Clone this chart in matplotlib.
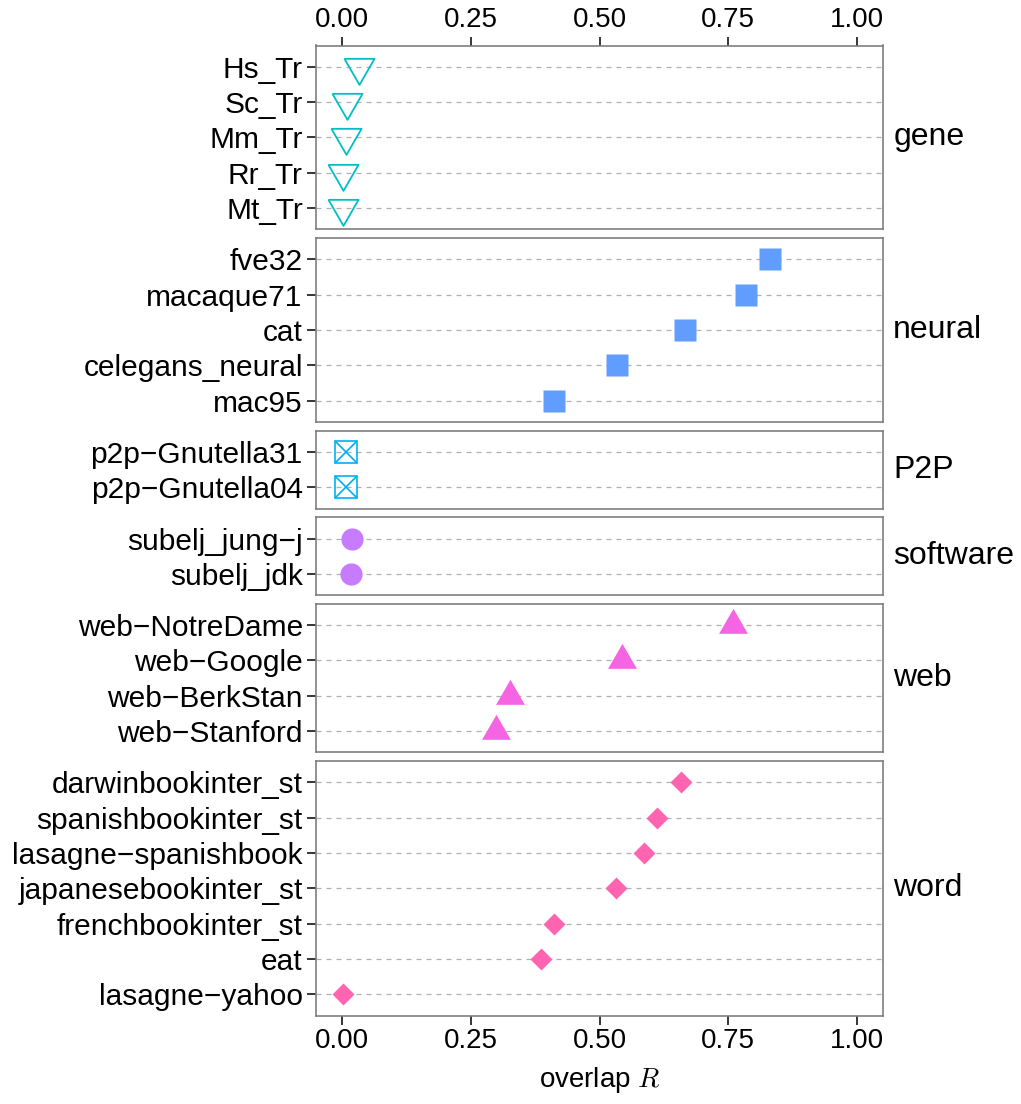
import numpy as np
import matplotlib
matplotlib.use('Agg')
from matplotlib import pyplot as plt

plt.rcParams['font.family'] = ['Liberation Sans', 'DejaVu Sans']
plt.rcParams['mathtext.fontset'] = 'cm'

# data, one list per panel (top row first)
groups = ['gene', 'neural', 'P2P', 'software', 'web', 'word']

gene_names = ['Hs_Tr', 'Sc_Tr', 'Mm_Tr', 'Rr_Tr', 'Mt_Tr']
gene_vals = [0.033, 0.010, 0.008, 0.003, 0.003]

neural_names = ['fve32', 'macaque71', 'cat', 'celegans_neural', 'mac95']
neural_vals = [0.830, 0.784, 0.666, 0.534, 0.412]

p2p_names = ['p2p\u2212Gnutella31', 'p2p\u2212Gnutella04']
p2p_vals = [0.009, 0.009]

software_names = ['subelj_jung\u2212j', 'subelj_jdk']
software_vals = [0.020, 0.018]

web_names = ['web\u2212NotreDame', 'web\u2212Google', 'web\u2212BerkStan', 'web\u2212Stanford']
web_vals = [0.759, 0.543, 0.327, 0.299]

word_names = ['darwinbookinter_st', 'spanishbookinter_st', 'lasagne\u2212spanishbook',
              'japanesebookinter_st', 'frenchbookinter_st', 'eat', 'lasagne\u2212yahoo']
word_vals = [0.659, 0.612, 0.586, 0.532, 0.411, 0.386, 0.003]

x_ticks = [0.0, 0.25, 0.5, 0.75, 1.0]

names = [gene_names, neural_names, p2p_names, software_names, web_names, word_names]
vals = [gene_vals, neural_vals, p2p_vals, software_vals, web_vals, word_vals]

# marker styles per group (ggplot-like shapes)
tri_up = [(-1, -0.577), (1, -0.577), (0, 1.155), (-1, -0.577)]
tri_down = [(-1, 0.577), (1, 0.577), (0, -1.155), (-1, 0.577)]
styles = {
    'gene': dict(marker=tri_down, ms=25, mfc='none', mec='#00BFC4', mew=1.3),
    'neural': dict(marker='s', ms=15.8, mfc='#619CFF', mec='none'),
    'P2P': dict(marker='s', ms=15.5, mfc='none', mec='#00B0F6', mew=1.2),
    'software': dict(marker='o', ms=16, mfc='#C77CFF', mec='none'),
    'web': dict(marker=tri_up, ms=24, mfc='#F564E3', mec='none'),
    'word': dict(marker='D', ms=10.8, mfc='#FF64B0', mec='none'),
}

W, H = 1021, 1104
fig = plt.figure(figsize=(W / 100., H / 100.), dpi=100)

left, right = 316, 883
top = 45.5
unit = 35.35
gap = 8.8
fs_y = 21.5
fs_x = 20
fs_strip = 23

y = top
axes = []
for g, nm, vv in zip(groups, names, vals):
    n = len(nm)
    h = (n + 0.2) * unit
    ax = fig.add_axes([left / W, 1 - (y + h) / H, (right - left) / W, h / H])
    axes.append(ax)
    y += h + gap

    pos = np.arange(n)[::-1]
    for p in pos:
        ax.axhline(p, color='#b0b0b0', lw=0.9, ls=(0, (4, 4)), zorder=1)
    st = styles[g]
    ax.plot(vv, pos, ls='none', zorder=3, **st)
    if g == 'P2P':
        # X inside the square
        ax.plot(vv, pos, ls='none', marker='x', ms=15.5, mec='#00B0F6', mew=1.2, zorder=3)

    ax.set_xlim(-0.05, 1.05)
    ax.set_ylim(-0.6, n - 0.4)
    ax.set_yticks(pos)
    ax.set_yticklabels(nm, fontsize=fs_y)
    ax.set_xticks(x_ticks)
    for s in ax.spines.values():
        s.set_color('#7f7f7f')
        s.set_linewidth(1.2)
    ax.tick_params(axis='y', length=6.5, width=1.1, color='black', pad=3)
    ax.tick_params(axis='x', length=6.5, width=1.1, color='black', pad=2.5,
                   bottom=False, labelbottom=False, top=False, labeltop=False)
    ax.text(1.018, 0.5, g, transform=ax.transAxes, fontsize=fs_strip,
            va='center', ha='left')

axes[0].tick_params(axis='x', top=True, labeltop=True)
axes[0].set_xticklabels(['%.2f' % t for t in x_ticks], fontsize=fs_x)
axes[-1].tick_params(axis='x', bottom=True, labelbottom=True)
axes[-1].set_xticklabels(['%.2f' % t for t in x_ticks], fontsize=fs_x)
axes[-1].set_xlabel('overlap $R$', fontsize=fs_x, labelpad=8)

plt.savefig('out.png', dpi=100)
